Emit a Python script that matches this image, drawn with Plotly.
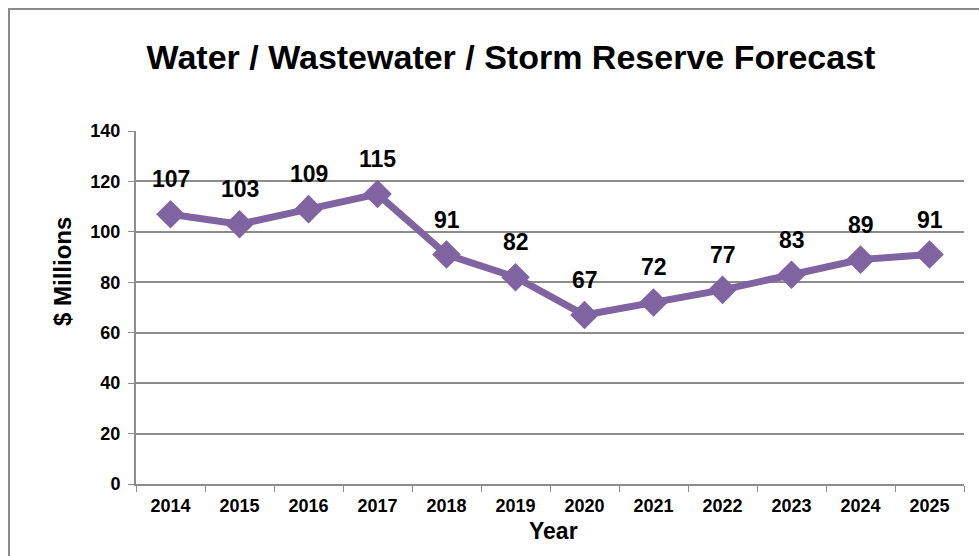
import plotly.graph_objects as go

# Reserve forecast, $ millions by year
years = ["2014", "2015", "2016", "2017", "2018", "2019",
         "2020", "2021", "2022", "2023", "2024", "2025"]
reserve = [107, 103, 109, 115, 91, 82, 67, 72, 77, 83, 89, 91]
y_ticks = [0, 20, 40, 60, 80, 100, 120, 140]

PURPLE = "#8064A2"
GRID = "#8C8C8C"
FONT = "Liberation Sans, Arial, sans-serif"

W, H = 979, 556
L, R, T, B = 136, 15, 131, 72
pw, ph = W - L - R, H - T - B

fig = go.Figure()

fig.add_trace(go.Scatter(
    x=years, y=reserve, mode="lines+markers",
    line=dict(color=PURPLE, width=7),
    marker=dict(symbol="diamond", size=22, color=PURPLE),
    hoverinfo="x+y", showlegend=False,
))

# value labels above each point (category index keeps "2014" from being read as a number)
for i, v in enumerate(reserve):
    fig.add_annotation(
        x=i, y=v, text=f"<b>{v}</b>", showarrow=False,
        yshift=35, yanchor="middle", xanchor="center",
        font=dict(family=FONT, size=23, color="black"),
    )

# axis titles
fig.add_annotation(
    xref="paper", yref="paper", x=(553 - L) / pw, y=(H - B - 531) / ph,
    text="<b>Year</b>", showarrow=False, xanchor="center", yanchor="middle",
    font=dict(family=FONT, size=23, color="black"),
)
fig.add_annotation(
    xref="paper", yref="paper", x=(62 - L) / pw, y=(H - B - 272) / ph,
    text="<b>$ Millions</b>", showarrow=False, textangle=-90,
    xanchor="center", yanchor="middle",
    font=dict(family=FONT, size=24, color="black"),
)

# outer chart frame
fig.add_shape(
    type="rect", xref="paper", yref="paper",
    x0=(9 - L) / pw, x1=(W + 20 - L) / pw,
    y0=(H - B - (H + 20)) / ph, y1=(H - B - 9) / ph,
    line=dict(color="#8A8A8A", width=2), fillcolor="rgba(0,0,0,0)",
    layer="below",
)

fig.update_layout(
    width=W, height=H,
    margin=dict(l=L, r=R, t=T, b=B),
    paper_bgcolor="white", plot_bgcolor="white",
    title=dict(
        text="<b>Water / Wastewater / Storm Reserve Forecast</b>",
        x=511 / W, xanchor="center", y=1 - 57 / H, yanchor="middle",
        font=dict(family=FONT, size=34, color="black"),
    ),
    xaxis=dict(
        type="category", range=[-0.5, 11.5],
        showgrid=False, showline=True, linecolor=GRID, linewidth=2,
        ticks="outside", ticklen=6, tickcolor=GRID, tickwidth=1,
        tickson="boundaries",
        tickfont=dict(family=FONT, size=18, color="black", weight="bold"),
        ticklabelstandoff=4,
    ),
    yaxis=dict(
        range=[0, 140], tickvals=y_ticks,
        showgrid=True, gridcolor=GRID, gridwidth=1.5,
        showline=True, linecolor=GRID, linewidth=2,
        ticks="outside", ticklen=6, tickcolor=GRID, tickwidth=1,
        zeroline=False,
        tickfont=dict(family=FONT, size=18, color="black", weight="bold"),
        ticklabelstandoff=4,
    ),
)

fig.write_html("out.html")
